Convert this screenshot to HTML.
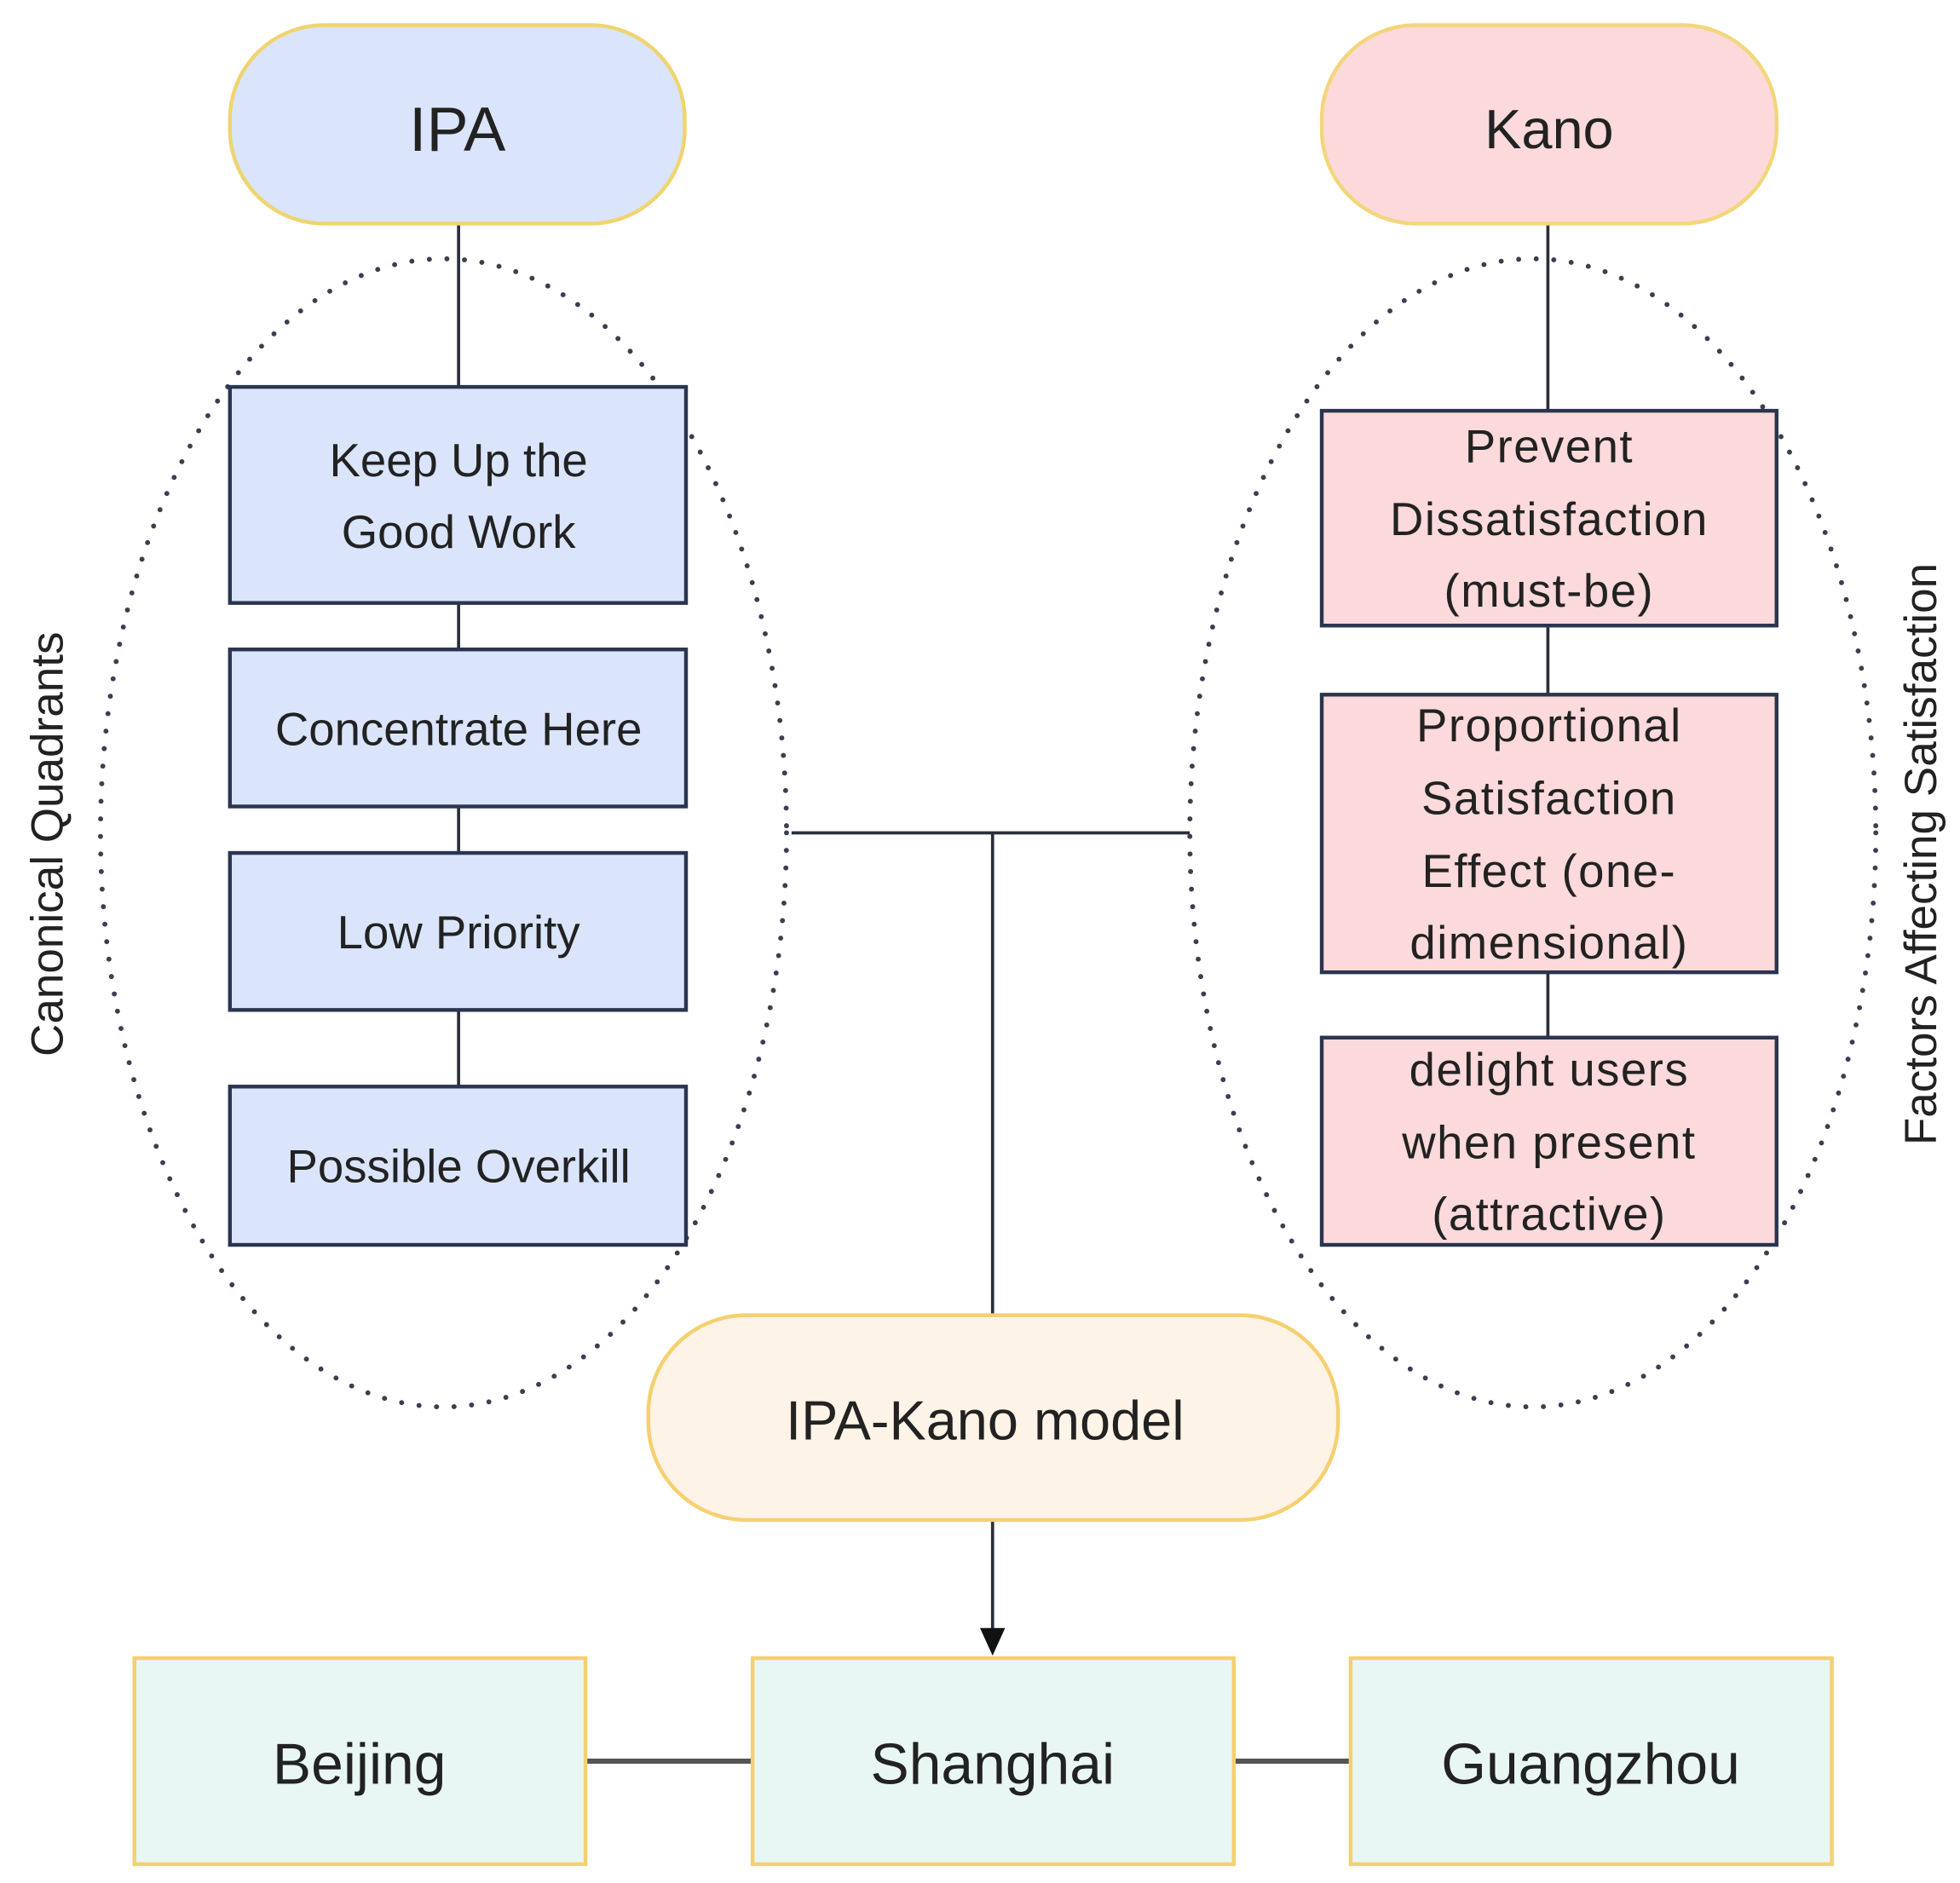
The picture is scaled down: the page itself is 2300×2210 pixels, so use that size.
<!DOCTYPE html>
<html><head><meta charset="utf-8"><style>
html,body{margin:0;padding:0;background:#fff;}
svg{display:block;}
text{font-family:"Liberation Sans",sans-serif;fill:#222;}
</style></head><body>
<svg width="2300" height="2210" viewBox="0 0 1560 1499" preserveAspectRatio="none" xmlns="http://www.w3.org/2000/svg">
<rect width="1560" height="1499" fill="#fff"/>
<!-- dotted ellipses -->
<ellipse cx="353" cy="663" rx="273" ry="457" fill="none" stroke="#3a3f50" stroke-width="4" stroke-dasharray="0 14" stroke-linecap="round"/>
<ellipse cx="1220" cy="663" rx="273" ry="457" fill="none" stroke="#3a3f50" stroke-width="4" stroke-dasharray="0 14" stroke-linecap="round"/>
<!-- connectors -->
<g stroke="#2a2f3a" stroke-width="2.5">
<line x1="365" y1="178" x2="365" y2="308"/>
<line x1="365" y1="480" x2="365" y2="517"/>
<line x1="365" y1="642" x2="365" y2="679"/>
<line x1="365" y1="804" x2="365" y2="865"/>
<line x1="1232" y1="178" x2="1232" y2="327"/>
<line x1="1232" y1="498" x2="1232" y2="553"/>
<line x1="1232" y1="774" x2="1232" y2="826"/>
<line x1="630" y1="663" x2="947" y2="663"/>
<line x1="790" y1="663" x2="790" y2="1047"/>
<line x1="790" y1="1210" x2="790" y2="1300"/>
</g>
<polygon points="780,1296 800,1296 790,1318" fill="#111"/>
<g stroke="#555" stroke-width="4">
<line x1="466" y1="1402" x2="599" y2="1402"/>
<line x1="982" y1="1402" x2="1075" y2="1402"/>
</g>
<!-- pills -->
<rect x="183" y="20" width="362" height="158" rx="75" fill="#dae5fb" stroke="#f0d470" stroke-width="3"/>
<text x="364" y="120" font-size="50" text-anchor="middle">IPA</text>
<rect x="1052" y="20" width="362" height="158" rx="75" fill="#fcd9da" stroke="#f3d67a" stroke-width="3"/>
<text x="1233" y="118" font-size="44" text-anchor="middle">Kano</text>
<rect x="516" y="1047" width="549" height="163" rx="78" fill="#fdf3e6" stroke="#f5d070" stroke-width="3"/>
<text x="784" y="1146" font-size="44" text-anchor="middle">IPA-Kano model</text>
<!-- IPA boxes -->
<g fill="#dae5fb" stroke="#2a3550" stroke-width="3">
<rect x="183" y="308" width="363" height="172"/>
<rect x="183" y="517" width="363" height="125"/>
<rect x="183" y="679" width="363" height="125"/>
<rect x="183" y="865" width="363" height="126"/>
</g>
<g font-size="37" text-anchor="middle">
<text x="365" y="379">Keep Up the</text>
<text x="365" y="436">Good Work</text>
<text x="365" y="593">Concentrate Here</text>
<text x="365" y="755">Low Priority</text>
<text x="365" y="941">Possible Overkill</text>
</g>
<!-- Kano boxes -->
<g fill="#fcd9da" stroke="#2a3550" stroke-width="3">
<rect x="1052" y="327" width="362" height="171"/>
<rect x="1052" y="553" width="362" height="221"/>
<rect x="1052" y="826" width="362" height="165"/>
</g>
<g font-size="37" text-anchor="middle" letter-spacing="1">
<text x="1233" y="368">Prevent</text>
<text x="1233" y="426">Dissatisfaction</text>
<text x="1233" y="483">(must-be)</text>
<text x="1233" y="590">Proportional</text>
<text x="1233" y="648">Satisfaction</text>
<text x="1233" y="706">Effect  (one-</text>
<text x="1233" y="763">dimensional)</text>
<text x="1233" y="864">delight users</text>
<text x="1233" y="922">when present</text>
<text x="1233" y="979">(attractive)</text>
</g>
<!-- bottom boxes -->
<g fill="#e8f6f4" stroke="#f5d070" stroke-width="3">
<rect x="107" y="1320" width="359" height="164"/>
<rect x="599" y="1320" width="383" height="164"/>
<rect x="1075" y="1320" width="383" height="164"/>
</g>
<g font-size="46" text-anchor="middle">
<text x="286" y="1420">Beijing</text>
<text x="790" y="1420">Shanghai</text>
<text x="1266" y="1420">Guangzhou</text>
</g>
<!-- rotated labels -->
<text transform="translate(50,672) rotate(-90)" font-size="36" text-anchor="middle" fill="#333">Canonical Quadrants</text>
<text transform="translate(1541,680) rotate(-90)" font-size="36" text-anchor="middle" fill="#333">Factors Affecting Satisfaction</text>
</svg>
</body></html>
